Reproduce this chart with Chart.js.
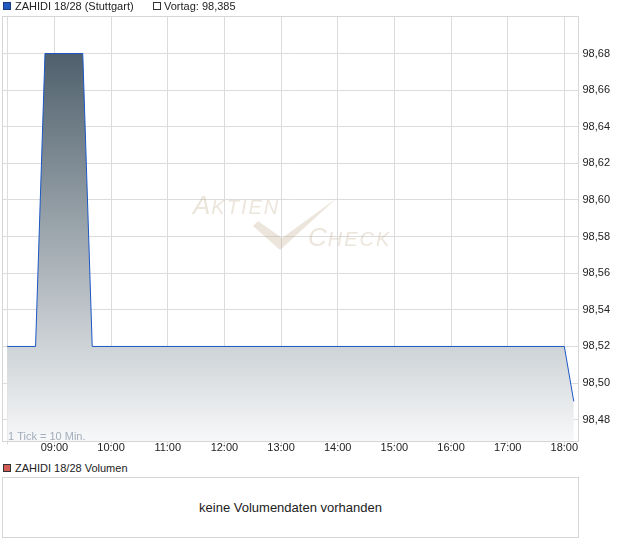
<!DOCTYPE html>
<html>
<head>
<meta charset="utf-8">
<script src="https://cdn.jsdelivr.net/npm/chart.js"></script>
<style>
  body { margin: 0; background: #fff; font-family: Arial, 'Liberation Sans', sans-serif; color: #222; }
  #wrap { position: relative; width: 620px; height: 546px; }
  #priceChart { position: absolute; left: 0; top: 0; }
  .leg { position: absolute; font-size: 11px; line-height: 12px; white-space: nowrap; }
  .sq { position: absolute; width: 8px; height: 8px; box-sizing: border-box; border: 1px solid #333; }
  #volBox { position: absolute; left: 2px; top: 477px; width: 577px; height: 61px; box-sizing: border-box;
            border: 1px solid #d6d6d6; font-size: 13px; text-align: center; line-height: 59px; }
</style>
</head>
<body>
<div id="wrap">
  <canvas id="priceChart" width="620" height="460"></canvas>

  <div class="sq" style="left:3px; top:2px; background:#2159c0; border-color:#1b3c7c;"></div>
  <div class="leg" id="seriesName" style="left:15px; top:0;"></div>
  <div class="sq" style="left:153px; top:2px; background:#fff;"></div>
  <div class="leg" id="prevClose" style="left:164px; top:0;"></div>

  <div class="sq" style="left:3px; top:464px; background:#d45c57;"></div>
  <div class="leg" id="volName" style="left:15px; top:462px;"></div>
  <div id="volBox">keine Volumendaten vorhanden</div>
</div>

<script>
// price data (Stuttgart, intraday)
const seriesName = 'ZAHIDI 18/28';
const exchange = 'Stuttgart';
const prevClose = 98.385;

const tradeTimes = ['08:10', '08:40', '08:50', '09:30', '09:40', '18:00', '18:10'];
const tradePrices = [98.52, 98.52, 98.68, 98.68, 98.52, 98.52, 98.49];

const timeTicks = ['08:10', '09:00', '10:00', '11:00', '12:00', '13:00', '14:00', '15:00', '16:00', '17:00', '18:00'];
const priceTicks = [98.48, 98.50, 98.52, 98.54, 98.56, 98.58, 98.60, 98.62, 98.64, 98.66, 98.68];
const timeRange = ['08:05', '18:15'];
const priceRange = [98.4681, 98.7002];

const toMin = (t) => {
    const [h, m] = t.split(':').map(Number);
    return h * 60 + m;
};
const fmtTime = (v) => String(Math.floor(v / 60)).padStart(2, '0') + ':' + String(v % 60).padStart(2, '0');
const fmtPrice = (v, d) => v.toFixed(d).replace('.', ',');

document.getElementById('seriesName').textContent = seriesName + ' (' + exchange + ')';
document.getElementById('prevClose').textContent = 'Vortag: ' + fmtPrice(prevClose, 3);
document.getElementById('volName').textContent = seriesName + ' Volumen';

const gridColor = '#dcdcdc';

// watermark, frame and tick note
const decor = {
    id: 'decor',
    beforeDatasetsDraw(chart) {
        const ctx = chart.ctx;
        ctx.save();
        ctx.fillStyle = 'rgba(185, 160, 130, 0.28)';
        const word = (big, rest, x, y) => {
            ctx.font = 'italic 26px Arial';
            ctx.fillText(big, x, y);
            x += ctx.measureText(big).width + 1;
            ctx.font = 'italic 20px Arial';
            for (const ch of rest) {
                ctx.fillText(ch, x, y);
                x += ctx.measureText(ch).width + 2;
            }
        };
        word('A', 'KTIEN', 193, 214);
        word('C', 'HECK', 308, 246);
        ctx.beginPath();
        ctx.moveTo(253, 226);
        ctx.lineTo(258, 221);
        ctx.lineTo(282, 238);
        ctx.lineTo(337, 198);
        ctx.lineTo(280, 250);
        ctx.closePath();
        ctx.fill();
        ctx.restore();
    },
    afterDatasetsDraw(chart) {
        const { ctx, chartArea: a } = chart;
        ctx.save();
        ctx.fillStyle = '#a3adbb';
        ctx.font = '11px Arial';
        ctx.textBaseline = 'alphabetic';
        ctx.fillText('1 Tick = 10 Min.', a.left + 5.5, a.bottom - 2);
        ctx.strokeStyle = '#d6d6d6';
        ctx.lineWidth = 1;
        ctx.strokeRect(a.left, a.top, a.right - a.left, a.bottom - a.top);
        ctx.restore();
    }
};

const priceCtx = document.getElementById('priceChart').getContext('2d');
const priceChart = new Chart(priceCtx, {
    type: 'line',
    data: {
        datasets: [{
            label: seriesName,
            data: tradeTimes.map((t, i) => ({ x: toMin(t), y: tradePrices[i] })),
            borderColor: '#1c56c4',
            borderWidth: 1,
            tension: 0,
            pointRadius: 0,
            fill: 'start',
            backgroundColor: (context) => {
                const { chart } = context;
                const { chartArea, scales } = chart;
                if (!chartArea) return null;
                const top = scales.y.getPixelForValue(Math.max(...tradePrices));
                const g = chart.ctx.createLinearGradient(0, top, 0, chartArea.bottom);
                g.addColorStop(0, '#4f606c');
                g.addColorStop(1, '#f7f8f9');
                return g;
            }
        }]
    },
    options: {
        responsive: false,
        animation: false,
        layout: { padding: { top: 16.5, left: 2.5, right: 0, bottom: 0 } },
        plugins: {
            legend: { display: false },
            tooltip: { enabled: false }
        },
        scales: {
            x: {
                type: 'linear',
                min: toMin(timeRange[0]),
                max: toMin(timeRange[1]),
                afterBuildTicks: (s) => { s.ticks = timeTicks.map(t => ({ value: toMin(t) })); },
                afterFit: (s) => { s.height = 18.5; },
                grid: { color: gridColor, tickLength: 3 },
                border: { display: false },
                ticks: {
                    padding: -3,
                    color: '#222',
                    autoSkip: false,
                    maxRotation: 0,
                    font: { family: 'Arial', size: 11 },
                    callback: (v) => (v % 60 === 0 ? fmtTime(v) : '')
                }
            },
            y: {
                position: 'right',
                min: priceRange[0],
                max: priceRange[1],
                afterBuildTicks: (s) => { s.ticks = priceTicks.map(v => ({ value: v })); },
                afterFit: (s) => { s.width = 41.5; },
                grid: { color: gridColor, drawTicks: false },
                border: { display: false },
                ticks: {
                    padding: 4,
                    color: '#222',
                    font: { family: 'Arial', size: 11 },
                    callback: (v) => fmtPrice(v, 2)
                }
            }
        }
    },
    plugins: [decor]
});
</script>
</body>
</html>
